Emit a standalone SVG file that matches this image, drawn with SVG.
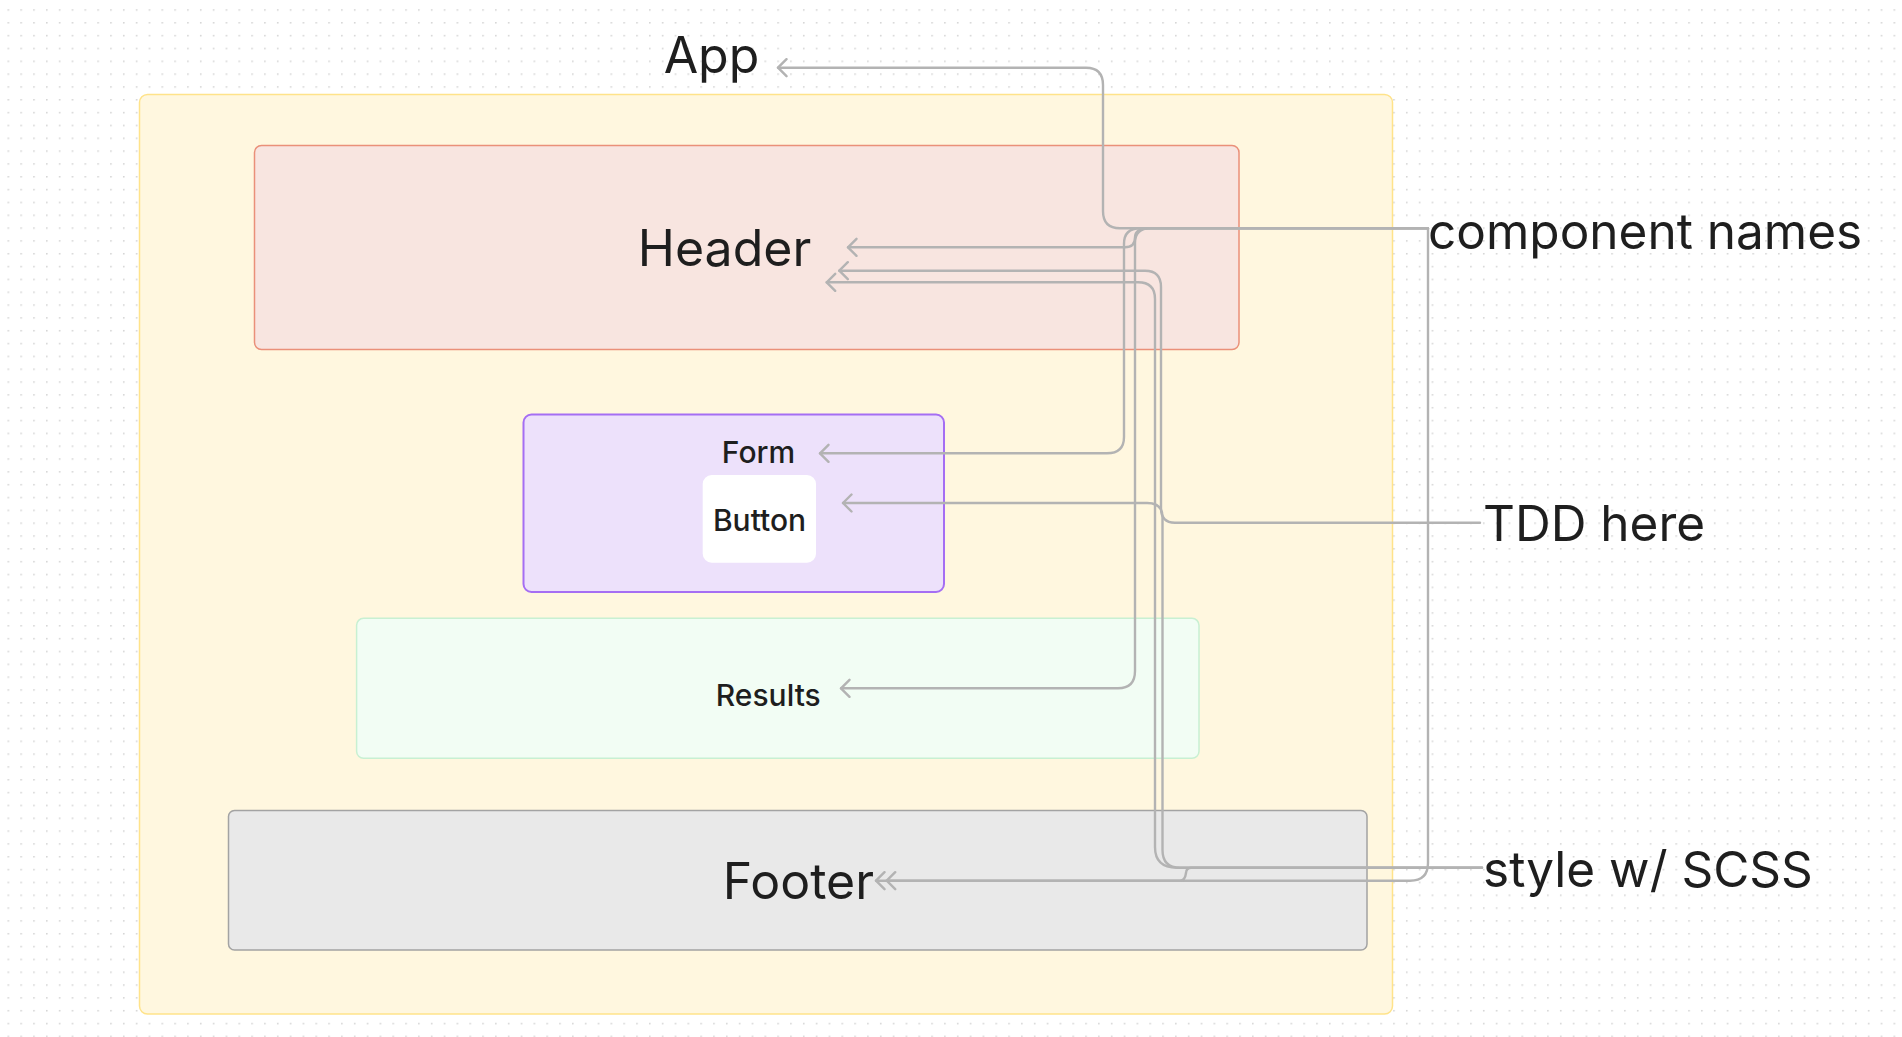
<svg xmlns="http://www.w3.org/2000/svg" width="1902" height="1037" viewBox="0 0 1902 1037">
<style>
.lbl{font-family:Inter,"Noto Sans","Liberation Sans",sans-serif;fill:#1e1e1e;text-anchor:middle}
.big{font-size:50px}
.sm{font-size:30px;font-weight:500}
.side{font-family:Inter,"Noto Sans","Liberation Sans",sans-serif;fill:#1e1e1e;font-size:49.5px}
.edge{fill:none;stroke:#b3b3b3;stroke-width:2.4;stroke-linecap:round;stroke-linejoin:round}
</style>
<defs>
<pattern id="dots" x="7.5" y="9.2" width="12.83" height="12.83" patternUnits="userSpaceOnUse">
<circle cx="0.8" cy="0.8" r="0.9" fill="#d4d4d4"/>
</pattern>
<marker id="arr" markerWidth="14" markerHeight="20" refX="10.5" refY="10" orient="auto" markerUnits="userSpaceOnUse">
<path d="M2,1.5 L10.5,10 L2,18.5" fill="none" stroke="#b3b3b3" stroke-width="2.4" stroke-linecap="round" stroke-linejoin="round"/>
</marker>
</defs>
<rect width="1902" height="1037" fill="#ffffff"/>
<rect width="1902" height="1037" fill="url(#dots)"/>

<g id="app">
<rect x="139.5" y="94.5" width="1253" height="919.5" rx="8" fill="#fff7df" stroke="#ffe38a" stroke-width="1.5"/>
</g>
<g id="header">
<rect x="254.5" y="145.5" width="984.5" height="204" rx="7" fill="#f8e5e0" stroke="#ea9079" stroke-width="1.5"/>
<text class="lbl big" x="724.5" y="266">Header</text>
</g>
<g id="form">
<rect x="523.5" y="414.5" width="420.5" height="177.5" rx="8" fill="#ede1fb" stroke="#a56ef3" stroke-width="2"/>
<text class="lbl sm" x="758.5" y="462.7">Form</text>
</g>
<g id="button">
<rect x="702.7" y="475" width="113.3" height="87.7" rx="9" fill="#ffffff"/>
<text class="lbl sm" x="759.5" y="531">Button</text>
</g>
<g id="results">
<rect x="356.6" y="618.3" width="842.4" height="140" rx="7" fill="#f2fdf4" stroke="#c8f0d2" stroke-width="1.5"/>
<text class="lbl sm" x="768.3" y="706">Results</text>
</g>
<g id="footer">
<rect x="228.5" y="810.5" width="1138.5" height="139.5" rx="6" fill="#e9e9e9" stroke="#a3a3a3" stroke-width="1.5"/>
<text class="lbl big" x="798.3" y="899.3">Footer</text>
</g>

<g id="label-app"><text class="lbl big" x="711.5" y="73.3">App</text></g>
<g id="label-component-names"><text class="side" x="1428" y="249">component names</text></g>
<g id="label-tdd"><text class="side" x="1483" y="541">TDD here</text></g>
<g id="label-style"><text class="side" x="1483" y="887">style w/ SCSS</text></g>

<g id="connectors">
<path class="edge" marker-end="url(#arr)" d="M1428,228.3 H1120 Q1103,228.3 1103,211 V85 Q1103,67.7 1086,67.7 H778"/>
<path class="edge" marker-end="url(#arr)" d="M1428,228.3 H1150 Q1135,228.3 1135,237.5 Q1135,247.3 1125,247.3 H848"/>
<path class="edge" marker-end="url(#arr)" d="M1428,228.3 H1140 Q1124,228.3 1124,244 V437 Q1124,453.3 1107,453.3 H820"/>
<path class="edge" marker-end="url(#arr)" d="M1428,228.3 H1150 Q1135,228.3 1135,243 V671 Q1135,688.3 1118,688.3 H841"/>
<path class="edge" marker-end="url(#arr)" d="M1428,228.3 V863 Q1428,880.7 1410,880.7 H876"/>
<path class="edge" marker-end="url(#arr)" d="M1480,522.7 H1175 Q1161,522.7 1161,508 V287 Q1161,270.7 1145,270.7 H839.3"/>
<path class="edge" marker-end="url(#arr)" d="M1482,867.7 H1177 Q1155,867.7 1155,847 V299 Q1155,282.3 1138,282.3 H826.7"/>
<path class="edge" marker-end="url(#arr)" d="M1482,867.7 H1180 Q1162.5,867.7 1162.5,850 V517 Q1162.5,503 1147,503 H843"/>
<path class="edge" marker-end="url(#arr)" d="M1482,867.7 H1191 Q1186.5,867.7 1186,873 Q1185,880.7 1180,880.7 H886.7"/>
</g>
</svg>
